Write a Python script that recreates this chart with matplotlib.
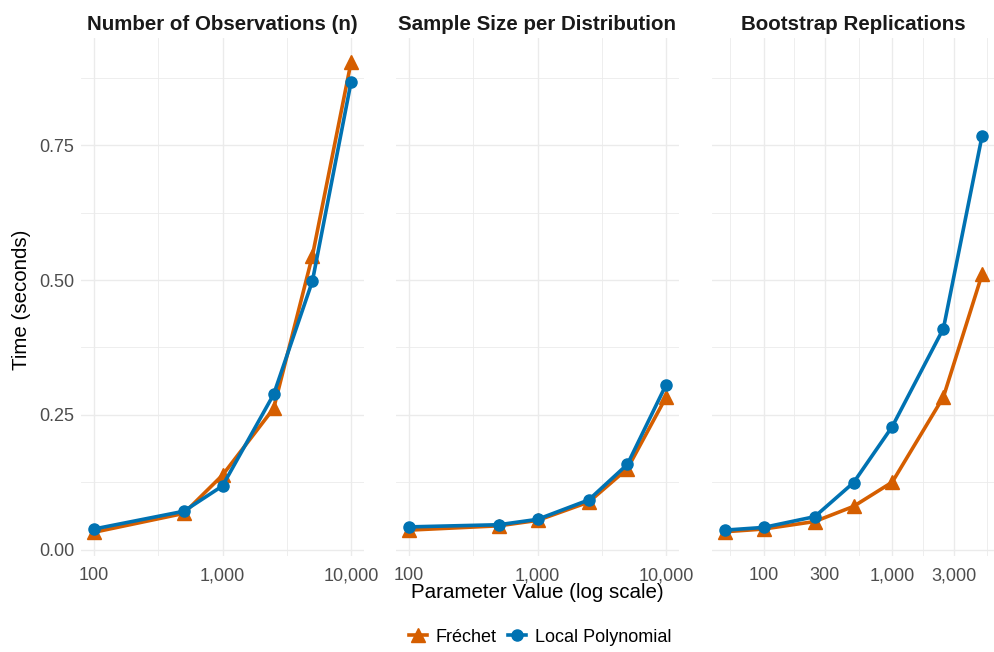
import math
import matplotlib
matplotlib.use("Agg")
import matplotlib.pyplot as plt
from matplotlib.ticker import FixedLocator, FuncFormatter, NullFormatter
from matplotlib.lines import Line2D

plt.rcParams['font.family'] = ['Liberation Sans', 'DejaVu Sans']

# data
titles = ["Number of Observations (n)", "Sample Size per Distribution", "Bootstrap Replications"]

obs_x = [100, 500, 1000, 2500, 5000, 10000]
obs_frechet = [0.032, 0.067, 0.138, 0.262, 0.545, 0.905]
obs_local = [0.038, 0.071, 0.118, 0.288, 0.498, 0.868]

size_x = [100, 500, 1000, 2500, 5000, 10000]
size_frechet = [0.036, 0.044, 0.054, 0.088, 0.150, 0.283]
size_local = [0.042, 0.046, 0.056, 0.092, 0.158, 0.306]

boot_x = [50, 100, 250, 500, 1000, 2500, 5000]
boot_frechet = [0.033, 0.038, 0.052, 0.080, 0.125, 0.283, 0.511]
boot_local = [0.036, 0.041, 0.061, 0.124, 0.228, 0.410, 0.768]

xs = [obs_x, size_x, boot_x]
frechet = [obs_frechet, size_frechet, boot_frechet]
local = [obs_local, size_local, boot_local]

major_x = [[100, 1000, 10000], [100, 1000, 10000], [100, 300, 1000, 3000]]
minor_x = [[316.2, 3162], [316.2, 3162], [54.8, 173.2, 547.7, 1732, 5477]]

y_major = [0, 0.25, 0.5, 0.75]
y_minor = [0.125, 0.375, 0.625, 0.875]

ORANGE = "#D55E00"
BLUE = "#0072B2"
GRID = "#EBEBEB"
TXT = "#4D4D4D"

W, H = 995, 652
fig = plt.figure(figsize=(W / 100, H / 100), dpi=100)

lefts = [81, 396, 712]
pw = 283
top, bottom = 38, 556

ymin, ymax = -0.012, 0.949

for i in range(3):
    ax = fig.add_axes([lefts[i] / W, 1 - bottom / H, pw / W, (bottom - top) / H])
    ax.set_xscale("log")
    llo, lhi = math.log10(min(xs[i])), math.log10(max(xs[i]))
    pad = (lhi - llo) * 0.05
    ax.set_xlim(10 ** (llo - pad), 10 ** (lhi + pad))
    ax.set_ylim(ymin, ymax)

    ax.xaxis.set_major_locator(FixedLocator(major_x[i]))
    ax.xaxis.set_minor_locator(FixedLocator(minor_x[i]))
    ax.xaxis.set_major_formatter(FuncFormatter(lambda v, p: f"{int(round(v)):,}"))
    ax.xaxis.set_minor_formatter(NullFormatter())
    ax.yaxis.set_major_locator(FixedLocator(y_major))
    ax.yaxis.set_minor_locator(FixedLocator(y_minor))
    ax.yaxis.set_major_formatter(FuncFormatter(lambda v, p: f"{v:.2f}"))

    ax.grid(True, which="major", color=GRID, linewidth=1.0)
    ax.grid(True, which="minor", color=GRID, linewidth=0.6)
    ax.set_axisbelow(True)
    for s in ax.spines.values():
        s.set_visible(False)
    ax.tick_params(which="both", length=0, labelsize=13, labelcolor=TXT)
    ax.tick_params(axis="x", pad=8)
    ax.tick_params(axis="y", pad=5)
    if i > 0:
        ax.tick_params(axis="y", labelleft=False)

    ax.plot(xs[i], frechet[i], color=ORANGE, linewidth=2.6, marker="^", markersize=9.5,
            solid_joinstyle="round", zorder=3)
    ax.plot(xs[i], local[i], color=BLUE, linewidth=2.6, marker="o", markersize=8,
            solid_joinstyle="round", zorder=4)
    ax.set_title(titles[i], fontsize=14.8, fontweight="bold", color="#1A1A1A", pad=6)

fig.text(537 / W, 1 - 592 / H, "Parameter Value (log scale)", ha="center", va="center", fontsize=14.8)
fig.text(22 / W, 1 - 300 / H, "Time (seconds)", ha="center", va="center", rotation=90, fontsize=14.8)

handles = [
    Line2D([], [], color=ORANGE, linewidth=2.6, marker="^", markersize=9.5),
    Line2D([], [], color=BLUE, linewidth=2.6, marker="o", markersize=8),
]
fig.legend(handles, ["Fréchet", "Local Polynomial"], loc="center", bbox_to_anchor=(540 / W, 1 - 637 / H),
           ncol=2, frameon=False, fontsize=13, handlelength=1.0, handletextpad=0.5, columnspacing=0.6)

fig.savefig("out.png", dpi=100)
